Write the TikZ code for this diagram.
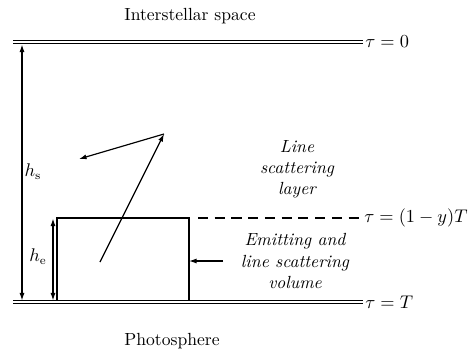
\documentclass[tikz,border=0pt]{standalone}
\usetikzlibrary{arrows.meta,positioning}
\begin{document}
\begin{tikzpicture}[x=0.021cm,y=-0.021cm,line width=0.7pt,>={Latex[length=4.5pt,width=3pt]},
    font=\fontsize{10.5}{12.6}\selectfont]
  \tikzset{boundary/.style={draw,line width=0.6pt,double,double distance=1.3pt},
    taulabel/.style={anchor=west,inner sep=1pt},
    layertext/.style={align=center,font=\fontsize{10.5}{12.6}\selectfont\itshape,inner sep=0pt}}
  \useasboundingbox (0,0) rectangle (474,355);
  % boundaries of the layer
  \coordinate (top-l) at (13,42);
  \coordinate (top-r) at (363,42);
  \coordinate (bot-l) at (13,302);
  \coordinate (bot-r) at (363,302);
  \draw[boundary] (top-l) -- (top-r);
  \draw[boundary] (bot-l) -- (bot-r);
  \node[taulabel] (tau0) at (top-r) {$\tau = 0$};
  \node[taulabel] (tauT) at (bot-r) {$\tau = T$};
  \node (space) at (190,16) {Interstellar space};
  \node (photo) at (172,341) {Photosphere};
  % emitting volume
  \coordinate (box-bl) at (57,300.5);
  \coordinate (box-tl) at (57,218);
  \coordinate (box-tr) at (189,218);
  \coordinate (box-br) at (189,300.5);
  \draw (box-bl) -- (box-tl) -- (box-tr) -- (box-br);
  \coordinate (dash-l) at (198,218);
  \coordinate (dash-r) at (362,218);
  \draw[dashed,dash pattern=on 6pt off 4pt] (dash-l) -- (dash-r);
  \node[taulabel] (tauy) at (dash-r) {$\tau = (1-y)T$};
  % heights
  \coordinate (hs-top) at (22,44.5);
  \coordinate (hs-bot) at (22,300.5);
  \draw[<->] (hs-top) -- (hs-bot);
  \node (hs) at (33,172) {$h_{\mathrm{s}}$};
  \coordinate (he-top) at (53,218.5);
  \coordinate (he-bot) at (53,300.5);
  \draw[<->] (he-top) -- (he-bot);
  \node (he) at (38,257) {$h_{\mathrm{e}}$};
  % photon path
  \coordinate (emit) at (100,262);
  \coordinate (scatter) at (164,134);
  \coordinate (escape) at (79,159);
  \draw[->] (emit) -- (scatter);
  \draw[->] (scatter) -- (escape);
  \node[layertext] (layer) at (297,169) {Line\\scattering\\layer};
  \node[layertext] (volume) at (295,261) {Emitting and\\line scattering\\volume};
  \coordinate (vol-arrow) at (223,261);
  \draw[->] (vol-arrow) -- (box-tr |- vol-arrow);
\end{tikzpicture}
\end{document}
